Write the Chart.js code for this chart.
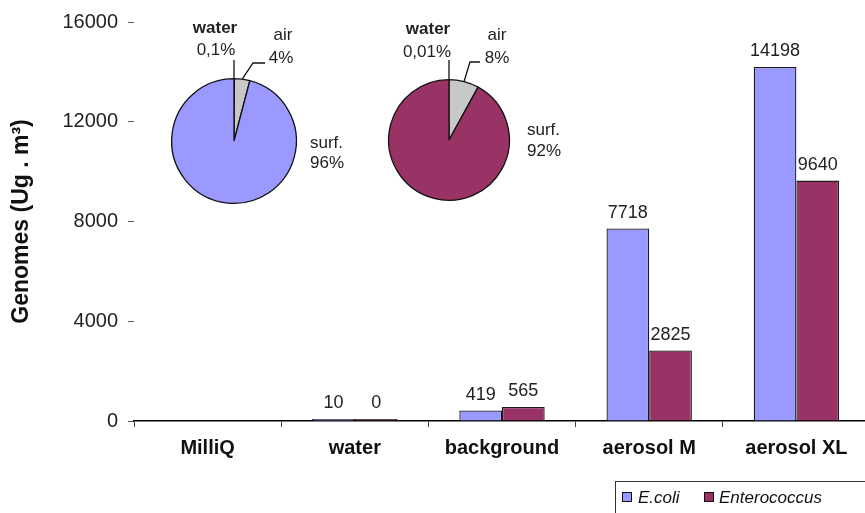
<!DOCTYPE html>
<html><head><meta charset="utf-8">
<script src="https://cdn.jsdelivr.net/npm/chart.js@4/dist/chart.umd.min.js"></script>
<style>
html,body{margin:0;padding:0;background:#fff;overflow:hidden;width:865px;height:513px;}
#wrap{position:relative;width:865px;height:513px;overflow:hidden;background:#fff;}
canvas{position:absolute;}
</style></head><body>
<div id="wrap">
<canvas id="bar" width="880" height="513" style="left:0;top:0"></canvas>
<canvas id="pie1" width="210" height="215" style="left:150px;top:0"></canvas>
<canvas id="pie2" width="210" height="215" style="left:365px;top:0"></canvas>
</div>
<script>
// ---- data ----
const categories = ['MilliQ', 'water', 'background', 'aerosol M', 'aerosol XL'];
const ecoliValues = [null, 10, 419, 7718, 14198];
const enteroValues = [null, 0, 565, 2825, 9640];
const yTicks = [0, 4000, 8000, 12000, 16000];
const seriesNames = ['E.coli', 'Enterococcus'];
const pieParts = ['water', 'air', 'surf.'];
const ecoliShares = [0.1, 4, 96];
const enteroShares = [0.01, 8, 92];
const ecoliShareText = ['0,1%', '4%', '96%'];
const enteroShareText = ['0,01%', '8%', '92%'];

// ---- styles ----
const FONT = "'Liberation Sans', Arial, sans-serif";
const ECOLI = '#9999ff';
const ENTERO = '#993366';
const AIRGRAY = '#c8c8c8';
Chart.defaults.font.family = FONT;
Chart.defaults.color = '#222';

const barLabels = {
  id: 'barLabels',
  afterDatasetsDraw(chart) {
    const ctx = chart.ctx;
    ctx.save();
    ctx.font = '18px ' + FONT;
    ctx.fillStyle = '#222';
    ctx.textAlign = 'center';
    ctx.textBaseline = 'alphabetic';
    chart.data.datasets.forEach((ds, i) => {
      chart.getDatasetMeta(i).data.forEach((bar, j) => {
        const v = ds.data[j];
        if (v == null) return;
        ctx.fillText(String(v), bar.x, Math.min(bar.y, bar.base) - 11);
      });
    });
    ctx.restore();
  }
};

const boxLegend = {
  id: 'boxLegend',
  afterDraw(chart) {
    const ctx = chart.ctx;
    ctx.save();
    ctx.strokeStyle = '#333';
    ctx.lineWidth = 1;
    ctx.strokeRect(615.5, 481.5, 300, 60);
    const pos = [{ x: 622, tx: 638 }, { x: 704, tx: 719 }];
    ctx.font = 'italic 17px ' + FONT;
    ctx.textBaseline = 'middle';
    ctx.textAlign = 'left';
    chart.data.datasets.forEach((ds, i) => {
      const p = pos[i];
      ctx.fillStyle = ds.backgroundColor;
      ctx.fillRect(p.x, 492, 10, 10);
      ctx.strokeStyle = '#111';
      ctx.strokeRect(p.x + 0.5, 492.5, 9, 9);
      ctx.fillStyle = '#111';
      ctx.fillText(ds.label, p.tx, 498);
    });
    ctx.restore();
  }
};

new Chart(document.getElementById('bar'), {
  type: 'bar',
  data: {
    labels: categories,
    datasets: [
      { label: seriesNames[0], data: ecoliValues, backgroundColor: ECOLI, borderColor: '#1a1a1a', borderWidth: 1.3, minBarLength: 2 },
      { label: seriesNames[1], data: enteroValues, backgroundColor: ENTERO, borderColor: '#1a1a1a', borderWidth: 1.3, minBarLength: 2 }
    ]
  },
  options: {
    responsive: false,
    animation: false,
    devicePixelRatio: 1,
    events: [],
    layout: { padding: { left: 0, top: 22, right: 10, bottom: 0 } },
    datasets: { bar: { categoryPercentage: 0.58, barPercentage: 1.0 } },
    plugins: { legend: { display: false }, tooltip: { enabled: false } },
    scales: {
      x: {
        grid: { offset: true, drawOnChartArea: false, drawTicks: true, tickLength: 6, color: '#444' },
        border: { display: true, color: '#000', width: 1.5 },
        ticks: { font: { size: 20, weight: 'bold' }, color: '#111', padding: 9, maxRotation: 0, autoSkip: false },
        afterFit(s) { s.height = 92; }
      },
      y: {
        min: 0, max: 16000,
        afterBuildTicks(s) { s.ticks = yTicks.map(v => ({ value: v })); },
        grid: { drawOnChartArea: false, drawTicks: true, tickLength: 6, color: '#555' },
        border: { display: false },
        ticks: { font: { size: 20 }, color: '#222', padding: 10, callback: v => String(v) },
        title: { display: true, text: 'Genomes (Ug . m³)', font: { size: 23, weight: 'bold' }, color: '#111', padding: { top: 8, bottom: 0 } },
        afterFit(s) { s.width = 134; }
      }
    }
  },
  plugins: [barLabels, boxLegend]
});

function pieLabelPlugin(texts, cfg) {
  return {
    id: 'pieLabels',
    afterDraw(chart) {
      const ctx = chart.ctx;
      const arcs = chart.getDatasetMeta(0).data;
      const cx = arcs[0].x, cy = arcs[0].y, r = arcs[0].outerRadius;
      ctx.save();
      ctx.strokeStyle = '#111';
      ctx.lineWidth = 1.3;
      ctx.beginPath();
      ctx.moveTo(cx, cy + cfg.waterLineTop);
      ctx.lineTo(cx, cy - r);
      ctx.stroke();
      const a = arcs[1];
      const mid = (a.startAngle + a.endAngle) / 2;
      ctx.beginPath();
      ctx.moveTo(cx + r * Math.cos(mid), cy + r * Math.sin(mid));
      ctx.lineTo(cx + cfg.elbow[0], cy + cfg.elbow[1]);
      ctx.lineTo(cx + cfg.elbowEnd, cy + cfg.elbow[1]);
      ctx.stroke();
      ctx.fillStyle = '#222';
      ctx.textBaseline = 'middle';
      ctx.textAlign = 'center';
      ctx.font = 'bold 17px ' + FONT;
      ctx.fillText(pieParts[0], cx + cfg.water[0], cy + cfg.water[1]);
      ctx.font = '17px ' + FONT;
      ctx.fillText(texts[0], cx + cfg.waterPct[0], cy + cfg.waterPct[1]);
      ctx.fillText(pieParts[1], cx + cfg.air[0], cy + cfg.air[1]);
      ctx.fillText(texts[1], cx + cfg.airPct[0], cy + cfg.airPct[1]);
      ctx.textAlign = 'left';
      ctx.fillText(pieParts[2], cx + cfg.surf[0], cy + cfg.surf[1]);
      ctx.fillText(texts[2], cx + cfg.surfPct[0], cy + cfg.surfPct[1]);
      ctx.restore();
    }
  };
}

function makePie(id, shares, texts, color, pad, cfg) {
  new Chart(document.getElementById(id), {
    type: 'pie',
    data: {
      labels: pieParts,
      datasets: [{ data: shares, backgroundColor: ['#ffffff', AIRGRAY, color], borderColor: '#111', borderWidth: 1.3, hoverOffset: 0 }]
    },
    options: {
      responsive: false, animation: false, devicePixelRatio: 1, events: [],
      layout: { padding: pad },
      plugins: { legend: { display: false }, tooltip: { enabled: false } }
    },
    plugins: [pieLabelPlugin(texts, cfg)]
  });
}

makePie('pie1', ecoliShares, ecoliShareText, ECOLI,
  { left: 21, top: 78, right: 63, bottom: 11 },
  { waterLineTop: -81, water: [-19, -113], waterPct: [-18, -91], air: [49, -106], airPct: [47, -83],
    surf: [76, 2], surfPct: [76, 22], elbow: [19, -78], elbowEnd: 31 });
makePie('pie2', enteroShares, enteroShareText, ENTERO,
  { left: 23, top: 79, right: 65, bottom: 14 },
  { waterLineTop: -80, water: [-21, -111], waterPct: [-22, -88], air: [48, -105], airPct: [48, -82],
    surf: [78, -10], surfPct: [78, 11], elbow: [21, -78], elbowEnd: 31 });
</script>
</body></html>
